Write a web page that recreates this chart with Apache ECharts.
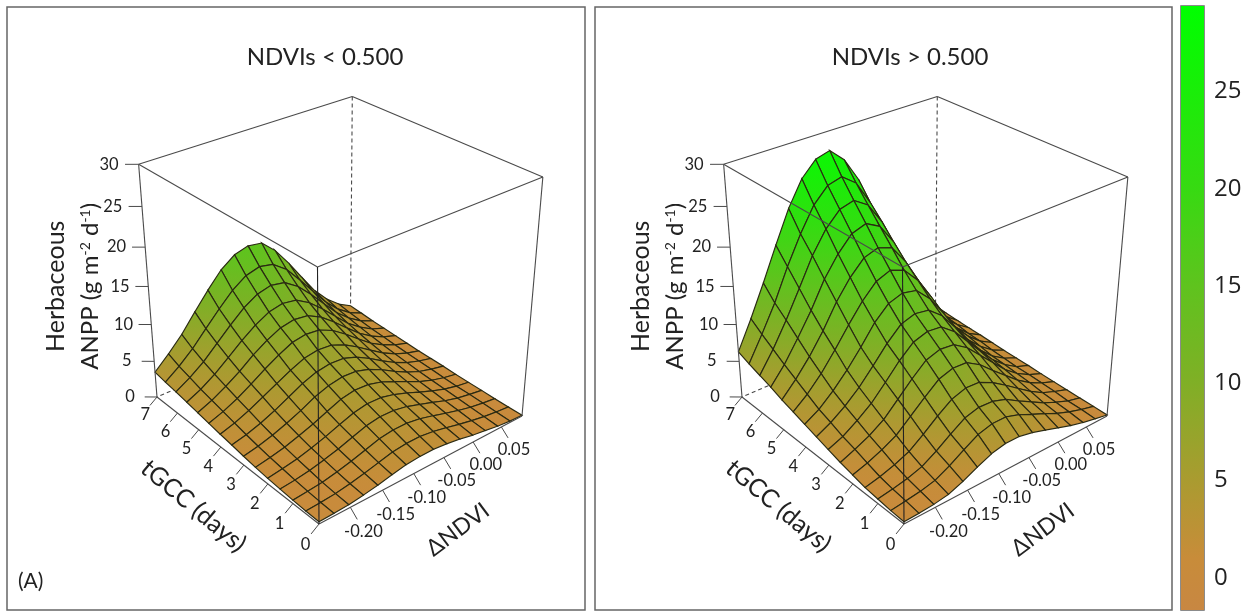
<!DOCTYPE html>
<html><head><meta charset="utf-8">
<style>html,body{margin:0;padding:0;background:#fff}#c{width:1250px;height:612px}</style>
<script src="https://cdn.jsdelivr.net/npm/echarts@6/dist/echarts.min.js"></script>
</head><body><div id="c"></div>
<script>
// ---- data ----
const panelTitles = ['NDVIs < 0.500', 'NDVIs > 0.500'];
const tgccTicks = [0, 1, 2, 3, 4, 5, 6, 7];
const ndviTicks = [-0.20, -0.15, -0.10, -0.05, 0.00, 0.05];
const anppTicks = [0, 5, 10, 15, 20, 25, 30];
const colorbarTicks = [0, 5, 10, 15, 20, 25];
const tgccRange = [0, 7];
const ndviRange = [-0.247, 0.0875];
const anppRange = [0, 30];
const colorbarRange = [-1.65, 29.4];
// rows: tGCC from 0 to 7; columns: dNDVI from min to max
const anppLow = [
[.3,.35,.45,.7,1.0,1.4,1.75,1.9,1.9,1.7,1.4,1.0,.7,.4,.2,.1],
[.35,.45,.6,.9,1.3,1.75,2.2,2.4,2.4,2.15,1.75,1.3,.9,.55,.3,.12],
[.45,.6,.8,1.2,1.65,2.2,2.75,3.0,3.0,2.7,2.2,1.65,1.15,.7,.4,.15],
[.6,.8,1.1,1.55,2.05,2.7,3.3,3.6,3.55,3.2,2.6,2.0,1.35,.85,.5,.2],
[.75,1.05,1.4,1.9,2.5,3.2,3.85,4.2,4.15,3.7,3.05,2.3,1.6,1.0,.55,.25],
[.95,1.3,1.75,2.35,3.0,3.8,4.55,4.9,4.8,4.3,3.5,2.65,1.8,1.15,.65,.3],
[1.2,1.6,2.15,2.85,3.65,4.6,5.25,5.6,5.5,4.95,4.05,3.0,2.05,1.3,.8,.4],
[1.5,1.95,2.6,3.4,4.35,5.3,6.0,6.3,6.2,5.55,4.55,3.4,2.35,1.5,.9,.45],
[1.75,2.35,3.15,4.1,5.05,6.0,6.8,7.1,6.95,6.2,5.1,3.85,2.65,1.7,1.0,.5],
[2.05,2.75,3.65,4.75,5.95,7.0,7.9,8.2,8.0,7.15,5.85,4.4,3.0,1.95,1.15,.6],
[2.35,3.15,4.2,5.4,6.8,7.95,8.85,9.2,8.95,8.0,6.55,4.95,3.4,2.2,1.3,.7],
[2.65,3.55,4.75,6.2,7.7,9.0,10.0,10.4,10.1,9.0,7.4,5.6,3.85,2.5,1.45,.8],
[2.95,4.05,5.4,7.1,8.8,10.35,11.45,11.9,11.55,10.3,8.45,6.4,4.4,2.85,1.65,.9],
[3.2,4.55,6.15,8.1,10,11.75,13,13.5,13.1,11.7,9.55,7.25,5,3.2,1.9,1.05],
[3.5,5.2,7.1,9.4,11.6,13.6,14.9,15.4,15.1,13.4,11,8.3,5.7,3.7,2.2,1.2]
];
const anppHigh = [
[.3,.35,.5,.8,1.5,2.4,3.2,3.6,3.6,3.2,2.6,2.0,1.4,.9,.5,.15],
[.4,.65,.9,1.35,2.3,3.45,4.5,5.0,5.0,4.4,3.55,2.75,1.9,1.2,.65,.2],
[.6,.9,1.3,1.9,3.0,4.3,5.5,6.0,5.9,5.3,4.2,3.2,2.2,1.4,.7,.25],
[.8,1.25,1.85,2.65,4.0,5.5,6.8,7.4,7.3,6.4,5.2,3.9,2.65,1.6,.9,.3],
[1.2,1.8,2.6,3.6,5.2,6.8,8.3,8.9,8.8,7.7,6.1,4.6,3.1,1.9,1.0,.35],
[1.6,2.4,3.3,4.5,6.3,8.1,9.7,10.3,10.1,8.9,7.1,5.3,3.5,2.1,1.1,.4],
[2.1,2.9,4.1,5.5,7.4,9.4,11.0,11.6,11.4,10,7.9,5.8,3.8,2.3,1.15,.5],
[2.6,3.6,4.9,6.5,8.5,10.6,12.3,12.9,12.6,11.1,8.8,6.3,4.1,2.45,1.3,.55],
[3.1,4.2,5.8,7.7,9.9,12.3,14.0,14.6,14.2,12.4,9.8,7.0,4.5,2.8,1.45,.6],
[3.6,5.1,7.0,9.3,11.8,14.1,15.9,16.6,15.9,13.9,11,7.8,5.1,3.2,1.7,.7],
[4.1,6.0,8.2,10.8,13.8,16.2,18.0,18.6,17.9,15.4,12.1,8.7,5.6,3.4,1.8,.8],
[4.7,6.9,9.6,12.5,15.8,18.3,20.2,20.8,19.8,17.1,13.3,9.6,6.2,3.7,2.1,.85],
[5.2,7.9,11,14.4,17.9,20.6,22.4,22.9,21.7,18.9,14.9,10.7,7,4.2,2.3,.95],
[5.7,8.9,12.3,16.3,19.8,22.8,24.6,25.1,23.7,20.6,16.2,11.6,7.7,4.6,2.6,1.05],
[6.3,10.0,14.0,18.2,22.2,25.3,27.1,27.6,25.9,22.8,17.8,12.8,8.4,5.1,2.8,1.2]
];
const paletteValues = [-1.65, 1, 5, 10, 15, 20, 29.4];
const paletteColors = [[200,135,66],[200,140,58],[170,155,48],[128,175,38],[95,195,30],[55,218,18],[0,255,0]];

// ---- persp-style camera: images of the cube corners plus depth weights ----
const cam = {O:[319,524], U:[157,397], V:[522,416], W:[317.5,267], a:1.153, b:1.117, c:.89};
const panelShift = [0, 585];
const FONT = 'Lato', FRAME = '#666', EDGE = '#4a4a4a', INK = '#222';

function project(u, v, w, dx) {
  const {O,U,V,W,a,b,c} = cam;
  const h = i => O[i] + u*(a*U[i]-O[i]) + v*(b*V[i]-O[i]) + w*(c*W[i]-O[i]);
  const d = 1 + u*(a-1) + v*(b-1) + w*(c-1);
  return [h(0)/d + dx, h(1)/d];
}
const nu = t => (t-tgccRange[0])/(tgccRange[1]-tgccRange[0]);
const nv = n => (n-ndviRange[0])/(ndviRange[1]-ndviRange[0]);
const nw = z => (z-anppRange[0])/(anppRange[1]-anppRange[0]);
function colorOf(z) {
  const last = paletteValues.length-1;
  if (z <= paletteValues[0]) z = paletteValues[0];
  if (z >= paletteValues[last]) z = paletteValues[last];
  let i = 0;
  while (i < last-1 && z > paletteValues[i+1]) i++;
  const f = (z-paletteValues[i])/(paletteValues[i+1]-paletteValues[i]);
  return 'rgb(' + paletteColors[i].map((c,k)=>Math.round(c+(paletteColors[i+1][k]-c)*f)).join(',') + ')';
}
const noTip = {silent:true, tooltip:{show:false}};

function surfaceSeries(p, table) {
  const rows = table.length, cols = table[0].length, dx = panelShift[p], cells = [];
  for (let k = rows-2; k >= 0; k--) for (let j = cols-2; j >= 0; j--) cells.push([k, j]);
  return Object.assign({type:'custom', xAxisIndex:p, yAxisIndex:p, z:3, data:cells,
    renderItem(_, api) {
      const k = api.value(0), j = api.value(1);
      const idx = [[k,j],[k+1,j],[k+1,j+1],[k,j+1]];
      const pts = idx.map(([r,c]) => api.coord(project(r/(rows-1), c/(cols-1), nw(table[r][c]), dx)));
      const zs = idx.map(([r,c]) => table[r][c]);
      const lo = zs.indexOf(Math.min(...zs)), hi = zs.indexOf(Math.max(...zs));
      return {type:'polygon', shape:{points:pts}, style:{
        fill:{type:'linear', global:true, x:pts[lo][0], y:pts[lo][1], x2:pts[hi][0], y2:pts[hi][1],
          colorStops:[{offset:0,color:colorOf(zs[lo])},{offset:1,color:colorOf(zs[hi])}]},
        stroke:'#2a2a12', lineWidth:1.15}};
    }}, noTip);
}
const backEdges = [[1,1,1,1,1,0],[1,1,0,1,0,0],[1,1,0,0,1,0]];
const frontEdges = [[1,0,0,1,0,1],[0,1,0,0,1,1],[0,0,0,1,0,0],[0,0,0,0,1,0],
  [0,0,1,1,0,1],[0,0,1,0,1,1],[1,0,1,1,1,1],[0,1,1,1,1,1]];
const frontVertical = [[0,0,0,0,0,1]];
function edgeSeries(p, edges, z, dash, color) {
  return Object.assign({type:'custom', xAxisIndex:p, yAxisIndex:p, z, data:edges.map((e,i)=>[i]),
    renderItem(_, api) {
      const e = edges[api.value(0)];
      const a = api.coord(project(e[0],e[1],e[2],panelShift[p])), b = api.coord(project(e[3],e[4],e[5],panelShift[p]));
      return {type:'line', shape:{x1:a[0],y1:a[1],x2:b[0],y2:b[1]},
        style:{stroke:color||EDGE, lineWidth:1.1, lineDash:dash||null}};
    }}, noTip);
}
function axisSeries(p, ticks, place, fmt) {
  return Object.assign({type:'custom', xAxisIndex:p, yAxisIndex:p, z:4, data:ticks.map(t=>[t]),
    renderItem(_, api) {
      const t = api.value(0), q = place(t), dx = panelShift[p];
      const a = api.coord(project(...q.base,dx)), b = api.coord(project(...q.tick,dx)), c = api.coord(project(...q.label,dx));
      return {type:'group', children:[
        {type:'line', shape:{x1:a[0],y1:a[1],x2:b[0],y2:b[1]}, style:{stroke:EDGE,lineWidth:1}},
        {type:'text', x:c[0], y:c[1], style:{text:fmt(t), align:'center', verticalAlign:'middle',
          fontFamily:FONT, fontSize:16.5, fill:INK}}]};
    }}, noTip);
}
function titleSeries(p) {
  const items = [
    {text:'tGCC (days)', at:[.5,-.182,-.14], rot:-40, size:25},
    {text:'\u0394NDVI', at:[-.174,.5,-.178], rot:37, size:23},
    {text:'Herbaceous', at:[1.225,-.264,.5], rot:90, size:25},
    {text:'ANPP (g m{s|-2} d{s|-1})', at:[1.142,-.167,.5], rot:90, size:24}
  ];
  return Object.assign({type:'custom', xAxisIndex:p, yAxisIndex:p, z:4, data:items.map((e,i)=>[i]),
    renderItem(_, api) {
      const it = items[api.value(0)], c = api.coord(project(...it.at,panelShift[p]));
      return {type:'text', x:c[0], y:c[1], rotation:it.rot*Math.PI/180,
        style:{text:it.text, align:'center', verticalAlign:'middle', fontFamily:FONT, fontSize:it.size, fill:INK,
          rich:{s:{fontFamily:FONT, fontSize:14, verticalAlign:'top', fill:INK, padding:[0,0,9,0]}}}};
    }}, noTip);
}
function panelSeries(p, table) {
  return [
    edgeSeries(p, backEdges, 2, [4,3]),
    surfaceSeries(p, table),
    edgeSeries(p, frontEdges, 4),
    edgeSeries(p, frontVertical, 4, null, '#222'),
    axisSeries(p, tgccTicks, t => {const u=nu(t); return {base:[u,0,0], tick:[u,-.035,-.025], label:[u,-.06,-.06]};}, t=>String(t)),
    axisSeries(p, ndviTicks, n => {const v=nv(n); return {base:[0,v,0], tick:[-.037,v,-.03], label:[-.07,v,-.065]};}, n=>n.toFixed(2)),
    axisSeries(p, anppTicks, z => {const w=nw(z); return {base:[1,0,w], tick:[1.0315,-.037,w], label:[1.07,-.08,w]};}, z=>String(z)),
    titleSeries(p)
  ];
}
const colorbarSeries = Object.assign({type:'custom', xAxisIndex:2, yAxisIndex:2, z:2, data:[[colorbarRange[0], colorbarRange[1]]],
  renderItem(_, api) {
    const lo = api.coord([0, api.value(0)]), hi = api.coord([1, api.value(1)]);
    const span = colorbarRange[1]-colorbarRange[0];
    return {type:'rect', shape:{x:lo[0], y:hi[1], width:hi[0]-lo[0], height:lo[1]-hi[1]},
      style:{fill:{type:'linear',x:0,y:1,x2:0,y2:0,colorStops:paletteValues.map(v=>({offset:(v-colorbarRange[0])/span,color:colorOf(v)}))}}};
  }}, noTip);

const hiddenX = (min,max,gridIndex)=>({type:'value',gridIndex,min,max,show:false});
const hiddenY = (min,max,gridIndex)=>({type:'value',gridIndex,min,max,inverse:true,show:false});
const frame = (left,width)=>({show:true,left,top:7,width,height:603,borderColor:FRAME,borderWidth:1.5,backgroundColor:'#fff',containLabel:false});

echarts.init(document.getElementById('c'), null, {renderer:'canvas'}).setOption({
  animation:false, backgroundColor:'#fff',
  title:[
    {text:panelTitles[0], left:320, top:40, textAlign:'center', textStyle:{fontFamily:FONT,fontSize:24,fontWeight:'normal',color:INK}},
    {text:panelTitles[1], left:905, top:40, textAlign:'center', textStyle:{fontFamily:FONT,fontSize:24,fontWeight:'normal',color:INK}},
    {text:'(A)', left:13, top:566, textStyle:{fontFamily:FONT,fontSize:21,fontWeight:'normal',color:INK}}
  ],
  grid:[frame(7,578), frame(595,577), {show:true,left:1181,top:6,width:23,height:604,borderColor:FRAME,borderWidth:1.5}],
  xAxis:[hiddenX(7,585,0), hiddenX(595,1172,1), hiddenX(0,1,2)],
  yAxis:[hiddenY(7,610,0), hiddenY(7,610,1), {type:'value',gridIndex:2,position:'right',min:colorbarRange[0],max:colorbarRange[1],
    axisLine:{show:false}, splitLine:{show:false},
    axisTick:{show:true,length:5,customValues:colorbarTicks,lineStyle:{color:'#555'}},
    axisLabel:{show:true,margin:10,customValues:colorbarTicks,fontFamily:'Open Sans',fontSize:24,color:INK}}],
  series:[...panelSeries(0,anppLow), ...panelSeries(1,anppHigh), colorbarSeries]
});
</script></body></html>
